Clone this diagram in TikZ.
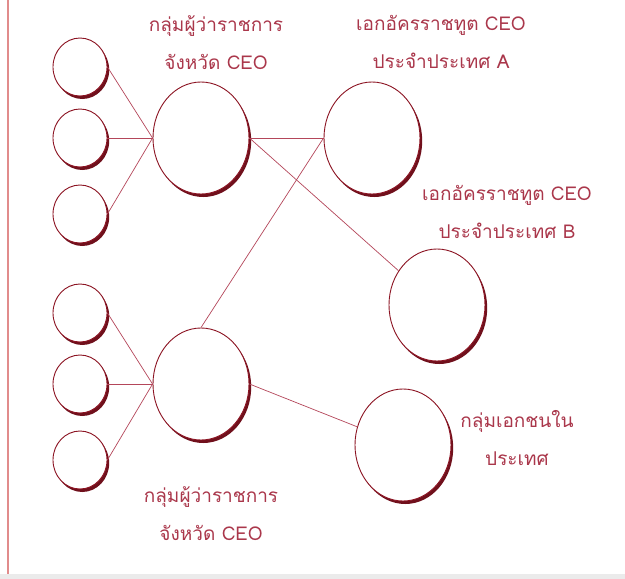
\documentclass[tikz,border=0pt]{standalone}
\usepackage{fontspec}
\setmainfont{Liberation Sans}
\newfontfamily\thaifont[Script=Thai]{Loma}
\usetikzlibrary{shapes.geometric,shadows}

\definecolor{wine}{RGB}{140,20,35}
\definecolor{winetext}{RGB}{170,55,75}
\definecolor{wineline}{RGB}{180,70,90}
\definecolor{frameline}{RGB}{225,140,140}

\tikzset{
  bubble/.style={ellipse, draw=wine, line width=0.9pt, fill=white,
    drop shadow={shadow xshift=2.2pt, shadow yshift=-3pt, fill=wine!80!black, opacity=1}},
  smallbubble/.style={bubble, minimum width=54pt, minimum height=58pt},
  bigbubble/.style={bubble, minimum width=96pt, minimum height=112pt},
  caption/.style={text=winetext, align=center, font=\thaifont\fontsize{19}{38}\selectfont},
  link/.style={draw=wineline, line width=0.7pt}
}

\begin{document}
\begin{tikzpicture}[x=1pt, y=-1pt]
        \useasboundingbox (0,0) rectangle (625,579);
        % กรอบ
        \fill[white] (0,0) rectangle (625,579);
        \fill[black!8] (0,574) rectangle (625,579);
        \draw[frameline, line width=1.2pt] (8,0) -- (8,574);

        % วงกลมเล็ก
        \node[smallbubble] (s1) at (80,67) {};
        \node[smallbubble] (s2) at (80,138) {};
        \node[smallbubble] (s3) at (80,214) {};
        \node[smallbubble] (s4) at (80,313) {};
        \node[smallbubble] (s5) at (80,384) {};
        \node[smallbubble] (s6) at (80,460) {};

        % วงกลมใหญ่
        \node[bigbubble] (gov1) at (201,138) {};
        \node[bigbubble] (gov2) at (201,384) {};
        \node[bigbubble] (embA) at (372,138) {};
        \node[bigbubble] (embB) at (437,305) {};
        \node[bigbubble] (priv) at (403,445) {};

        % ข้อความ
        \node[caption] (govlabel1) at (216,43) {กลุ่มผู้ว่าราชการ\\จังหวัด CEO};
        \node[caption] (embAlabel) at (441,42) {เอกอัครราชทูต CEO\\ประจำประเทศ A};
        \node[caption] (embBlabel) at (507,212) {เอกอัครราชทูต CEO\\ประจำประเทศ B};
        \node[caption] (privlabel) at (517,438) {กลุ่มเอกชนใน\\ประเทศ};
        \node[caption] (govlabel2) at (211,514) {กลุ่มผู้ว่าราชการ\\จังหวัด CEO};

        % เส้นเชื่อม
        \draw[link] (s1.east) -- (gov1.west);
        \draw[link] (s2.east) -- (gov1.west);
        \draw[link] (s3.east) -- (gov1.west);
        \draw[link] (s4.east) -- (gov2.west);
        \draw[link] (s5.east) -- (gov2.west);
        \draw[link] (s6.east) -- (gov2.west);
        \draw[link] (gov1.east) -- (embA.west);
        \draw[link] (gov1.east) -- (embB);
        \draw[link] (gov2.north) -- (embA.west);
        \draw[link] (gov2.east) -- (priv);
\end{tikzpicture}
\end{document}
